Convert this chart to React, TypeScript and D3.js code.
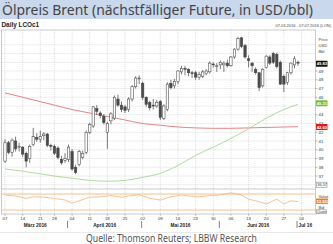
import React from "react";
import * as d3 from "d3";

const W = 333;
const H = 244;

const days = [
  "07.03","08.03","09.03","10.03","11.03",
  "14.03","15.03","16.03","17.03","18.03",
  "21.03","22.03","23.03","24.03",
  "28.03","29.03","30.03","31.03","01.04",
  "04.04","05.04","06.04","07.04","08.04",
  "11.04","12.04","13.04","14.04","15.04",
  "18.04","19.04","20.04","21.04","22.04",
  "25.04","26.04","27.04","28.04","29.04",
  "02.05","03.05","04.05","05.05","06.05",
  "09.05","10.05","11.05","12.05","13.05",
  "16.05","17.05","18.05","19.05","20.05",
  "23.05","24.05","25.05","26.05","27.05",
  "30.05","31.05","01.06","02.06","03.06",
  "06.06","07.06","08.06","09.06","10.06",
  "13.06","14.06","15.06","16.06","17.06",
  "20.06","21.06","22.06","23.06","24.06",
  "27.06","28.06","29.06","30.06","01.07",
];
const futureDays = ["04.07", "05.07", "06.07", "07.07"];

const open = [
  38.7,40.8,39.7,41.0,40.3,
  40.3,39.6,39.0,40.6,41.4,
  41.2,41.6,41.8,40.5,
  40.4,40.2,38.9,38.8,38.9,
  39.8,38.0,38.3,39.1,39.7,
  42.0,42.7,44.7,44.2,43.8,
  42.0,43.3,43.6,45.8,45.1,
  44.9,44.6,45.8,47.2,48.1,
  47.6,46.0,45.4,45.1,45.0,
  45.5,43.6,44.6,47.6,47.3,
  47.8,48.9,49.3,49.2,48.8,
  48.8,48.3,48.4,48.7,48.9,
  49.8,49.5,49.7,49.7,49.9,
  49.6,50.6,51.5,52.8,51.9,
  50.4,49.9,49.2,48.8,47.3,
  49.4,50.6,51.0,50.9,50.0,
  48.4,47.7,48.8,49.7,50.0,
];
const high = [
  41.2,41.0,41.3,41.5,40.8,
  40.4,39.8,40.6,42.5,41.9,
  42.2,42.0,41.9,40.7,
  40.6,40.4,39.3,39.6,40.6,
  40.1,38.3,40.0,39.9,42.2,
  43.1,45.0,45.1,44.4,44.1,
  43.2,44.3,46.2,46.3,45.5,
  45.1,46.0,47.4,48.4,48.5,
  47.8,46.1,45.6,45.8,45.7,
  45.7,45.2,47.7,48.0,48.1,
  49.1,49.6,49.6,49.3,49.0,
  49.0,48.9,49.1,49.2,50.1,
  50.0,49.9,50.2,50.1,50.3,
  50.7,51.6,52.9,52.9,52.1,
  50.8,50.0,49.4,48.9,49.3,
  50.8,50.8,51.2,51.1,50.2,
  48.6,48.9,50.0,50.7,50.2,
];
const low = [
  38.5,39.5,39.2,39.8,39.8,
  39.2,38.0,38.5,40.4,40.9,
  40.8,41.1,40.3,39.9,
  39.4,38.9,38.3,38.5,38.6,
  37.6,37.2,38.1,38.9,39.5,
  41.8,42.5,44.0,43.6,42.9,
  40.1,42.9,43.4,44.9,44.3,
  44.2,44.3,45.5,47.0,47.5,
  45.7,44.9,44.5,44.6,44.8,
  43.4,43.4,44.4,46.9,47.0,
  47.5,48.6,48.5,48.4,48.2,
  48.0,48.0,48.2,48.5,48.7,
  49.4,48.9,49.2,48.9,49.4,
  49.5,50.4,51.3,51.6,50.4,
  49.4,48.9,48.6,46.7,47.1,
  49.3,49.7,49.8,49.3,47.4,
  46.6,47.4,48.6,49.3,49.6,
];
const close = [
  40.8,39.7,41.1,40.1,40.4,
  39.5,38.7,40.4,41.5,41.2,
  41.5,41.8,40.5,40.4,
  39.6,39.1,38.5,39.0,40.3,
  37.8,37.4,39.8,39.6,42.0,
  42.9,44.9,44.4,43.9,43.1,
  43.0,44.1,46.0,45.1,44.6,
  44.5,45.8,47.2,48.2,48.2,
  46.0,45.2,44.8,45.0,45.4,
  43.7,45.0,47.5,47.1,47.8,
  49.0,49.3,49.2,48.8,48.7,
  48.3,48.6,48.9,49.0,49.9,
  49.7,49.6,50.0,49.9,49.6,
  50.6,51.5,52.7,51.8,50.6,
  50.2,49.6,48.8,47.1,49.2,
  50.7,49.9,50.0,49.5,47.5,
  47.5,48.8,49.9,50.4,49.9,
];

// moving averages
const maDays = ["07.03","14.03","21.03","28.03","04.04","11.04","18.04","25.04","02.05","09.05","16.05","23.05","30.05","06.06","13.06","20.06","27.06","01.07"];
const maRed = [46.5,46.0,45.5,45.1,44.6,44.2,43.8,43.4,43.0,42.8,42.6,42.5,42.45,42.45,42.5,42.55,42.6,42.63];
const maGreen = [37.8,37.55,37.25,37.0,36.75,36.5,36.4,36.5,36.85,37.3,38.2,39.35,40.3,41.3,42.4,43.6,44.6,45.2];

// indicator (lower panel)
const indDays = ["07.03","10.03","15.03","17.03","22.03","28.03","31.03","04.04","06.04","11.04","14.04","19.04","22.04","26.04","29.04","04.05","09.05","12.05","17.05","19.05","24.05","27.05","01.06","06.06","09.06","13.06","16.06","20.06","23.06","27.06","29.06","01.07"];
const indVal = [67.5,65,59,63,62,59,55,47,53,62,63,66,62,65,68,59,55,63,67.5,65,63,66,67.5,73,67.5,57,51,45,57,45,53,51];

const tickDays = ["07.03","14.03","21.03","28.03","04.04","11.04","18.04","25.04","02.05","09.05","16.05","23.05","30.05","06.06","13.06","20.06","27.06","04.07"];
const monthStarts = ["01.04", "02.05", "01.06", "01.07"];
const monthLabels = ["März 2016", "April 2016", "Mai 2016", "Juni 2016", "Jul 16"];
const priceTicks = [37, 38, 39, 40, 41, 42, 43, 44, 46, 47, 48, 49];
const gridPrices = [36, 37, 38, 39, 40, 41, 42, 43, 44, 45, 46, 47, 48, 49, 50, 51, 52];

const lastPrice = 49.83;
const greenLast = 45.31;
const redLast = 42.6;

export default function App() {
  const left = 1.5;
  const right = 315.5;
  const top = 30;
  const priceBottom = 189;
  const indBottom = 214;

  const allDays = days.concat(futureDays);
  const x = d3.scalePoint<string>().domain(allDays).range([5, 5 + 3.53 * (allDays.length - 1)]);
  const y = d3.scaleLinear().domain([36, 53]).range([184.75, 36]);
  const yi = d3.scaleLinear().domain([30, 70]).range([210, 194]);

  const lineP = d3
    .line<[string, number]>()
    .x((d) => x(d[0]) as number)
    .y((d) => y(d[1]))
    .curve(d3.curveMonotoneX);
  const lineI = d3
    .line<[string, number]>()
    .x((d) => x(d[0]) as number)
    .y((d) => yi(d[1]));

  const redPath = lineP(maDays.map((d, i) => [d, maRed[i]] as [string, number])) || "";
  const greenPath = lineP(maDays.map((d, i) => [d, maGreen[i]] as [string, number])) || "";
  const indPath = lineI(indDays.map((d, i) => [d, indVal[i]] as [string, number])) || "";

  const seps = monthStarts.map((d) => (x(d) as number) - 1);
  const monthCenters = [
    ((x("07.03") as number) + seps[0]) / 2 - 1,
    (seps[0] + seps[1]) / 2,
    (seps[1] + seps[2]) / 2,
    (seps[2] + seps[3]) / 2,
  ];

  const tiny = "'Liberation Sans', Arial, sans-serif";
  const bw = 2.4;

  const boxes = [
    { v: lastPrice, fill: "#111", text: "49.83", tc: "#fff" },
    { v: greenLast, fill: "#6cbf3a", text: "45.31", tc: "#fff" },
    { v: redLast, fill: "#e3161d", text: "42.60", tc: "#fff" },
  ];

  return (
    <svg
      width={W}
      height={H}
      style={{ position: "fixed", left: 0, top: 0, display: "block", background: "#fff" }}
    >
      <rect x={0} y={0} width={W} height={H} fill="#fff" />
      {/* header */}
      <rect x={0} y={0} width={W} height={19} fill="#c9d8ec" />
      <text
        x={2}
        y={15}
        fontFamily="'Noto Sans', 'Open Sans', sans-serif"
        fontSize={14.5}
        fill="#444"
        textLength={311}
        lengthAdjust="spacingAndGlyphs"
      >
        Ölpreis Brent (nächstfälliger Future, in USD/bbl)
      </text>
      <text x={1.5} y={26.5} fontFamily={tiny} fontSize={6.4} fontWeight="bold" fill="#222">
        Daily LCOc1
      </text>
      <text x={331} y={27} fontFamily={tiny} fontSize={4} fill="#444" textAnchor="end">
        07.03.2016 - 07.07.2016 (LON)
      </text>

      {/* grid */}
      {gridPrices.map((p) => (
        <line
          key={"hg" + p}
          x1={left}
          x2={right}
          y1={y(p)}
          y2={y(p)}
          stroke="#bdbdbd"
          strokeWidth={0.5}
          strokeDasharray="1,1"
        />
      ))}
      {tickDays.map((d) => (
        <line
          key={"vg" + d}
          x1={x(d) as number}
          x2={x(d) as number}
          y1={top}
          y2={indBottom}
          stroke="#bdbdbd"
          strokeWidth={0.5}
          strokeDasharray="1,1"
        />
      ))}

      {/* moving averages */}
      <path d={redPath} fill="none" stroke="#e47575" strokeWidth={0.9} />
      <path d={greenPath} fill="none" stroke="#a6d88f" strokeWidth={0.9} />

      {/* candles */}
      {days.map((d, i) => {
        const cx = x(d) as number;
        const o = open[i];
        const c = close[i];
        const up = c >= o;
        const yt = y(Math.max(o, c));
        const h = Math.max(0.7, Math.abs(y(o) - y(c)));
        return (
          <g key={"c" + d}>
            <line x1={cx} x2={cx} y1={y(high[i])} y2={y(low[i])} stroke="#444" strokeWidth={0.7} />
            <rect
              x={cx - bw / 2}
              y={yt}
              width={bw}
              height={h}
              fill={up ? "#fff" : "#4a4a4a"}
              stroke="#444"
              strokeWidth={0.55}
            />
          </g>
        );
      })}

      {/* indicator panel */}
      <line x1={left} x2={right} y1={yi(70)} y2={yi(70)} stroke="#f7b77a" strokeWidth={0.9} />
      <line x1={left} x2={right} y1={yi(30)} y2={yi(30)} stroke="#f7b77a" strokeWidth={0.9} />
      <path d={indPath} fill="none" stroke="#f2b27c" strokeWidth={0.8} />

      {/* frame */}
      <rect x={left} y={top} width={right - left} height={indBottom - top} fill="none" stroke="#a8a8a8" strokeWidth={0.6} />
      <line x1={left} x2={right} y1={priceBottom} y2={priceBottom} stroke="#a8a8a8" strokeWidth={0.6} />

      {/* right axis */}
      {priceTicks.map((p) => (
        <g key={"pt" + p}>
          <line x1={right} x2={right + 2} y1={y(p)} y2={y(p)} stroke="#666" strokeWidth={0.5} />
          <text x={right + 3} y={y(p) + 1.5} fontFamily={tiny} fontSize={4.3} fill="#333">
            {p}
          </text>
        </g>
      ))}
      <text x={right + 3} y={41} fontFamily={tiny} fontSize={4.1} fill="#444">Price</text>
      <text x={right + 3} y={46.5} fontFamily={tiny} fontSize={4.1} fill="#444">USD</text>
      <text x={right + 3} y={52.5} fontFamily={tiny} fontSize={4.1} fill="#444">Bbl</text>
      {boxes.map((b) => (
        <g key={"b" + b.text}>
          <rect x={right + 0.5} y={y(b.v) - 3} width={11.5} height={6} fill={b.fill} />
          <text x={right + 1.3} y={y(b.v) + 1.5} fontFamily={tiny} fontSize={4.1} fontWeight="bold" fill={b.tc}>
            {b.text}
          </text>
        </g>
      ))}
      <rect x={right + 1} y={y(36) - 2.6} width={10.5} height={5.2} fill="#fff" stroke="#777" strokeWidth={0.5} />
      <text x={right + 1.8} y={y(36) + 1.4} fontFamily={tiny} fontSize={3.9} fill="#333">36.57</text>

      <text x={right + 3} y={197.5} fontFamily={tiny} fontSize={4} fill="#444">Value</text>
      <rect x={right + 0.5} y={198.5} width={12} height={5.4} fill="#e8801f" />
      <text x={right + 1.2} y={202.6} fontFamily={tiny} fontSize={4} fontWeight="bold" fill="#fff">52.952</text>
      <text x={right + 3} y={208.5} fontFamily={tiny} fontSize={4} fill="#444">Bid</text>
      <rect x={right + 1} y={209.8} width={10} height={4} fill="#fff" stroke="#777" strokeWidth={0.5} />
      <text x={right + 1.8} y={212.9} fontFamily={tiny} fontSize={3.3} fill="#333">Quote</text>

      {/* x axis */}
      {tickDays.map((d) => (
        <g key={"xt" + d}>
          <line x1={x(d) as number} x2={x(d) as number} y1={indBottom} y2={indBottom + 1.5} stroke="#666" strokeWidth={0.5} />
          <text x={x(d) as number} y={220} fontFamily={tiny} fontSize={4.3} fill="#333" textAnchor="middle">
            {d.slice(0, 2)}
          </text>
        </g>
      ))}
      {seps.map((sx, i) => (
        <line key={"sep" + i} x1={sx} x2={sx} y1={221} y2={228} stroke="#333" strokeWidth={0.6} />
      ))}
      {monthCenters.map((mx, i) => (
        <text
          key={"m" + i}
          x={mx}
          y={226.5}
          fontFamily={tiny}
          fontSize={4.8}
          fontWeight="bold"
          fill="#222"
          textAnchor="middle"
        >
          {monthLabels[i]}
        </text>
      ))}
      <text x={seps[3] + 1.5} y={226.5} fontFamily={tiny} fontSize={4.8} fontWeight="bold" fill="#222">
        {monthLabels[4]}
      </text>

      <line x1={0} x2={W} y1={232.5} y2={232.5} stroke="#dcdcdc" strokeWidth={0.6} />
      <text
        x={86}
        y={241.5}
        fontFamily="'Noto Sans', 'Open Sans', sans-serif"
        fontSize={10}
        fill="#555"
        textLength={171}
        lengthAdjust="spacingAndGlyphs"
      >
        Quelle: Thomson Reuters; LBBW Research
      </text>
    </svg>
  );
}
